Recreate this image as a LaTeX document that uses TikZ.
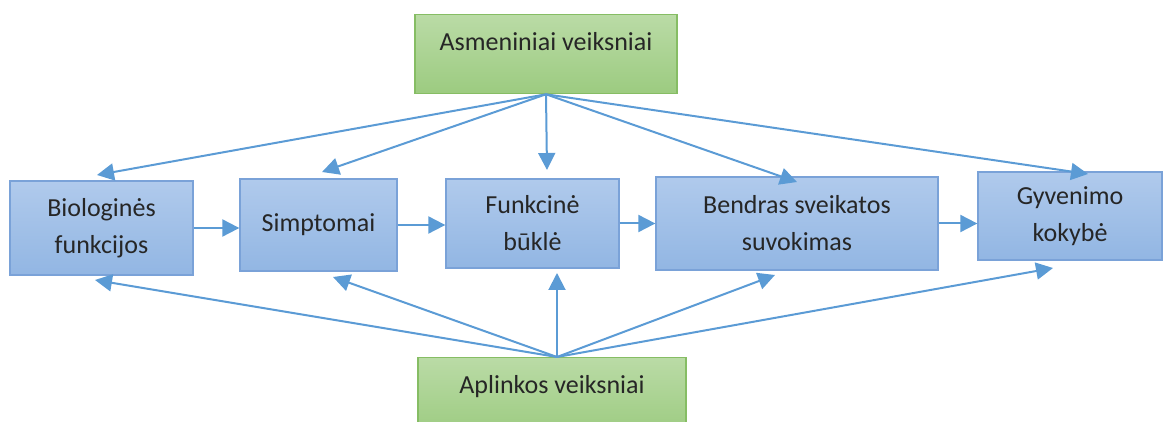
\documentclass[tikz,border=0pt]{standalone}
\usepackage{fontspec}
\setmainfont{Carlito}
\usetikzlibrary{arrows.meta}

\definecolor{linkblue}{RGB}{91,155,213}
\definecolor{boxtop}{RGB}{176,202,236}
\definecolor{boxbot}{RGB}{146,182,227}
\definecolor{boxedge}{RGB}{122,162,216}
\definecolor{greentop}{RGB}{186,219,166}
\definecolor{greenbot}{RGB}{156,203,128}
\definecolor{greenedge}{RGB}{134,189,100}

\tikzset{
  every node/.style={font=\fontsize{26}{37}\selectfont, text=black!85},
  stage/.style={draw=boxedge, line width=1.3pt, top color=boxtop, bottom color=boxbot,
                align=center, inner sep=0pt},
  factor/.style={draw=greenedge, line width=1.3pt, top color=greentop, bottom color=greenbot,
                 align=center, inner xsep=0pt, inner ysep=0pt, anchor=north},
  link/.style={draw=linkblue, line width=2pt,
               -{Triangle[length=17pt,width=17pt]}}
}

\begin{document}
\begin{tikzpicture}[x=1pt,y=-1pt]
\useasboundingbox (0,0) rectangle (1163,422);

% influencing factors
\node[factor, minimum width=262pt, text height=36pt, text depth=43pt] (asm) at (546,14) {Asmeniniai veiksniai};
\node[factor, minimum width=268pt, text height=36pt, text depth=42pt] (apl) at (552,357) {Aplinkos veiksniai};

% chain of health outcomes
\node[stage, minimum width=183pt, minimum height=94pt] (bio) at (101.5,228) {Biologinės\\funkcijos};
\node[stage, minimum width=157pt, minimum height=92pt] (sim) at (318.5,225) {Simptomai};
\node[stage, minimum width=173pt, minimum height=89pt] (fun) at (532.5,223.5) {Funkcinė\\būklė};
\node[stage, minimum width=282pt, minimum height=93pt] (ben) at (797,223.5) {Bendras sveikatos\\suvokimas};
\node[stage, minimum width=184pt, minimum height=88pt] (gyv) at (1070,216) {Gyvenimo\\kokybė};

% arrow ends of the fan-out connectors
\coordinate (top1) at (97,175);
\coordinate (top2) at (322,172);
\coordinate (top3) at (547,170);
\coordinate (top4) at (797,182);
\coordinate (top5) at (1088,174);
\coordinate (bot1) at (95,280);
\coordinate (bot2) at (333,277);
\coordinate (bot3) at (557,273);
\coordinate (bot4) at (775,275);
\coordinate (bot5) at (1053,268);
\coordinate (aplsrc) at ([xshift=5pt]apl.north);

% chain arrows
\draw[link] (bio.east) -- (bio.east -| sim.west);
\draw[link] (sim.east) -- (sim.east -| fun.west);
\draw[link] (fun.east) -- (fun.east -| ben.west);
\draw[link] (ben.east) -- (ben.east -| gyv.west);

% personal factors
\foreach \t in {top1,top2,top3,top4,top5}
  \draw[link] (asm.south) -- (\t);

% environmental factors
\foreach \t in {bot1,bot2,bot3,bot4,bot5}
  \draw[link] (aplsrc) -- (\t);
\end{tikzpicture}
\end{document}
